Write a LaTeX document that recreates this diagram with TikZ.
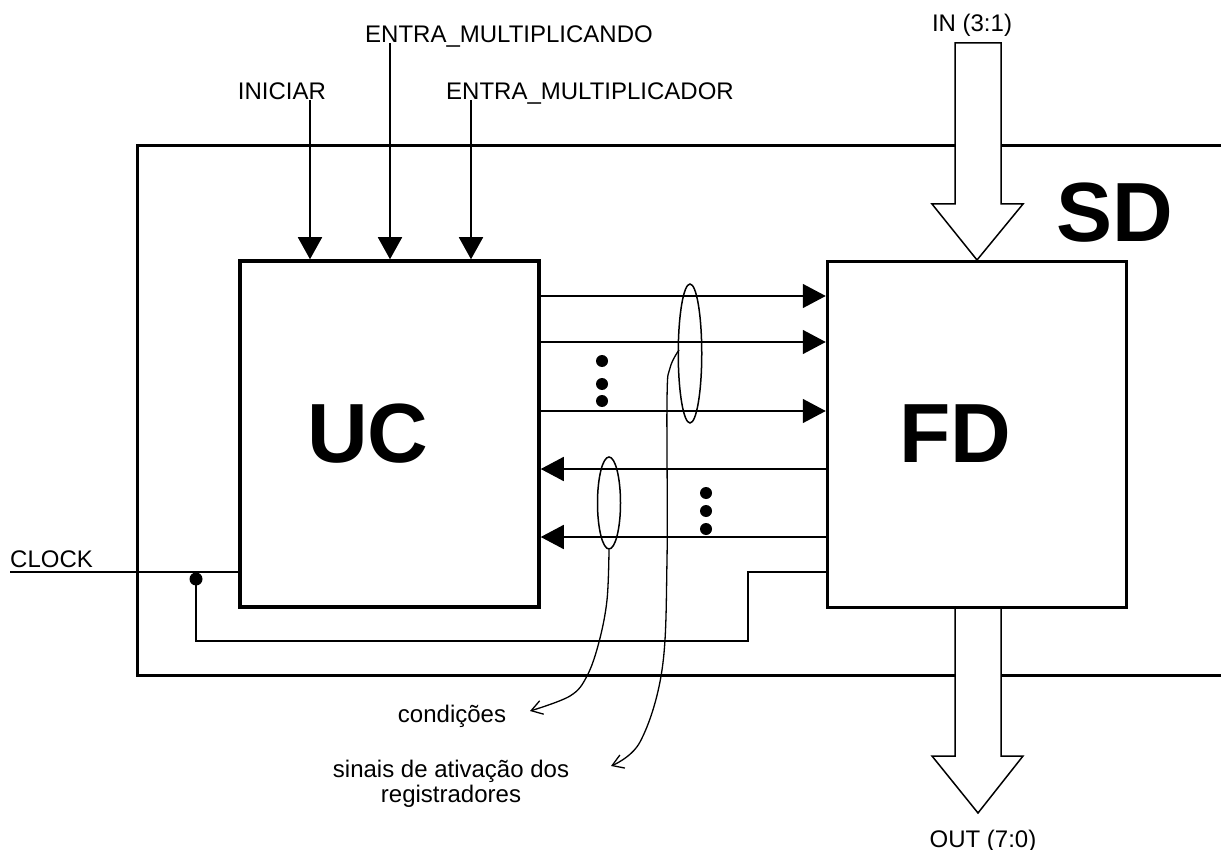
\documentclass[tikz,border=0pt]{standalone}
\usepackage{fontspec}
\setmainfont{Liberation Sans}
\usetikzlibrary{arrows.meta,shapes.geometric}
\begin{document}
\begin{tikzpicture}[x=1pt,y=-1pt,
  lbl/.style={font=\fontsize{24}{25}\selectfont, inner sep=0pt, anchor=base},
  big/.style={font=\fontsize{84}{90}\selectfont\bfseries, inner sep=0pt, anchor=base},
  blk/.style={draw, line width=3.5pt, minimum width=299pt, minimum height=346pt, inner sep=0pt},
  sig/.style={line width=1.6pt},
  inarr/.style={sig, -{Triangle[length=22pt,width=24pt]}},
  rarr/.style={sig, -{Triangle[length=23pt,width=24pt]}},
  note/.style={line width=1.3pt, -{Straight Barb[length=11pt,width=14pt]}},
  outline/.style={line width=3pt},
  barrow/.style={draw, fill=white, line width=1.5pt, line join=miter},
  ell/.style={draw, line width=1.5pt, ellipse},
  dot/.style={fill=black}
]
\useasboundingbox (0,0) rectangle (1221,850);

% outer SD frame (open on the right)
\draw[outline] (1225,146) -- (137,146) -- (137,675) -- (1225,675);

% blocks
\node[blk] (UC) at (389.5,434) {};
\node[blk] (FD) at (977,434.5) {};
\node[big] (tUC) at (368,462) {UC};
\node[big] (tFD) at (955,462) {FD};
\node[big] (tSD) at (1115,242) {SD};

% input labels
\node[lbl] (lIni) at (282,100) {INICIAR};
\node[lbl] (lMcando) at (509,43) {ENTRA\_MULTIPLICANDO};
\node[lbl] (lMcador) at (590,100) {ENTRA\_MULTIPLICADOR};
\node[lbl] (lIn) at (972,32) {IN (3:1)};
\node[lbl] (lOut) at (983,847) {OUT (7:0)};
\node[lbl, anchor=base west] (lClk) at (10,567) {CLOCK};
\node[lbl] (lCond) at (452,722) {condições};
\node[lbl, align=center, anchor=base] (lSin) at (451,802) {sinais de ativação dos\\registradores};

% input arrows into UC
\coordinate (cIni) at (310,100);
\coordinate (cMcando) at (390,43);
\coordinate (cMcador) at (471,100);
\draw[inarr] (cIni) -- (cIni |- UC.north);
\draw[inarr] (cMcando) -- (cMcando |- UC.north);
\draw[inarr] (cMcador) -- (cMcador |- UC.north);

% UC -> FD control signals
\foreach \y in {296,342,411} {
  \draw[rarr] (UC.east |- 0,\y) -- (FD.west |- 0,\y);
}
% FD -> UC conditions
\foreach \y in {469,537} {
  \draw[rarr] (FD.west |- 0,\y) -- (UC.east |- 0,\y);
}

% dots
\foreach \y in {361,384,401} { \fill[dot] (602,\y) circle (6); }
\foreach \y in {493,511,529} { \fill[dot] (706,\y) circle (6); }

% ellipses
\node[ell, minimum width=23.5pt, minimum height=139pt, inner sep=0pt] (e1) at (690,353.5) {};
\node[ell, minimum width=23pt, minimum height=92pt, inner sep=0pt] (e2) at (609,503) {};

% annotation curves
\draw[note] plot[smooth, tension=0.6] coordinates {(679,350) (670,368) (667,400) (667,560) (662,670) (640,742) (611,766)};
\draw[note] plot[smooth, tension=0.6] coordinates {(e2.south) (607,600) (599,642) (587,676) (570,696) (530,711)};

% clock
\draw[sig] (10,572) -- (UC.west |- 0,572);
\coordinate (junc) at (196,579);
\fill[dot] (junc) circle (6.5);
\draw[sig] (junc) -- (196,641) -- (748,641) -- (748,572) -- (FD.west |- 0,572);

% bus arrows
\draw[barrow] (955,43) -- (1001,43) -- (1001,204) -- (1023,204) -- (977,260) -- (932,204) -- (955,204) -- cycle;
\draw[barrow] (955,608) -- (1001,608) -- (1001,756) -- (1023,756) -- (978,813) -- (932,756) -- (955,756) -- cycle;
\end{tikzpicture}
\end{document}
